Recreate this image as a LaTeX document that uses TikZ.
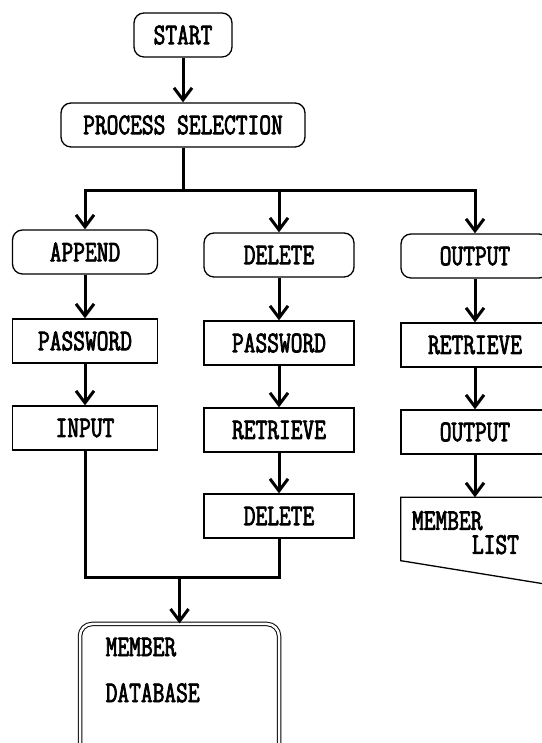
\documentclass[tikz,border=0pt]{standalone}
\usepackage{fontspec}
\setmainfont[FakeStretch=0.76,FakeBold=2.5]{Latin Modern Mono}
\usetikzlibrary{arrows.meta}
\tikzset{
  box/.style={draw, line width=1.3pt, minimum height=44, inner sep=0pt},
  term/.style={box, rounded corners=10},
  proc/.style={box},
  link/.style={line width=3pt},
  flow/.style={link, -{Straight Barb[length=12pt,width=18pt]}},
}
\begin{document}
\begin{tikzpicture}[x=1pt,y=1pt,font=\fontsize{30}{30}\selectfont]
\useasboundingbox (0,0) rectangle (541,743);
% top of the chart
\node[term, minimum width=98] (start) at (183,708) {START};
\node[term, minimum width=244] (select) at (183,618) {PROCESS SELECTION};
\coordinate (fork) at (183,552);
% first row
\node[term, minimum width=145] (append) at (85,491) {APPEND};
\node[term, minimum width=150] (delete) at (279,488) {DELETE};
\node[term, minimum width=148] (output) at (475,487) {OUTPUT};
% append branch
\node[proc, minimum width=145] (passA) at (85,402) {PASSWORD};
\node[proc, minimum width=145] (input) at (85,315) {INPUT};
% delete branch
\node[proc, minimum width=150] (passD) at (279,400) {PASSWORD};
\node[proc, minimum width=150] (findD) at (279,313) {RETRIEVE};
\node[proc, minimum width=150] (remove) at (279,227) {DELETE};
% output branch
\node[proc, minimum width=148] (findO) at (475,398) {RETRIEVE};
\node[proc, minimum width=148] (print) at (475,311) {OUTPUT};
\node[minimum width=148, minimum height=63, inner sep=0pt] (list) at (475,214) {};
\draw[line width=1.3pt] (list.north east) -- (list.north west) -- (list.south west) -- ([yshift=-24]list.south east);
\node[anchor=north west, align=left, inner sep=0pt, font=\fontsize{30}{24}\selectfont] (listtext) at ([shift={(11,-14)}]list.north west) {MEMBER\\\hspace*{60pt}LIST};
% database
\coordinate (join) at (179.5,165);
\node[draw, double, double distance=2.5pt, line width=1pt, rounded corners=12, minimum width=199, minimum height=140] (dbase) at (179.5,49) {};
\node[anchor=north west, align=left, inner sep=0pt] (dbtext) at ([shift={(26,-14)}]dbase.north west) {MEMBER\\[16pt]DATABASE};
% connectors
\draw[flow] (start) -- (select);
\draw[link] (select) -- (fork);
\draw[flow] (fork) -| (append);
\draw[flow] (fork) -| (delete);
\draw[flow] (fork) -| (output);
\draw[flow] (append) -- (passA);
\draw[flow] (passA) -- (input);
\draw[flow] (delete) -- (passD);
\draw[flow] (passD) -- (findD);
\draw[flow] (findD) -- (remove);
\draw[flow] (output) -- (findO);
\draw[flow] (findO) -- (print);
\draw[flow] (print) -- (list);
\draw[link] (input) |- (join) -| (remove);
\draw[flow] (join) -- (dbase);
\end{tikzpicture}
\end{document}
